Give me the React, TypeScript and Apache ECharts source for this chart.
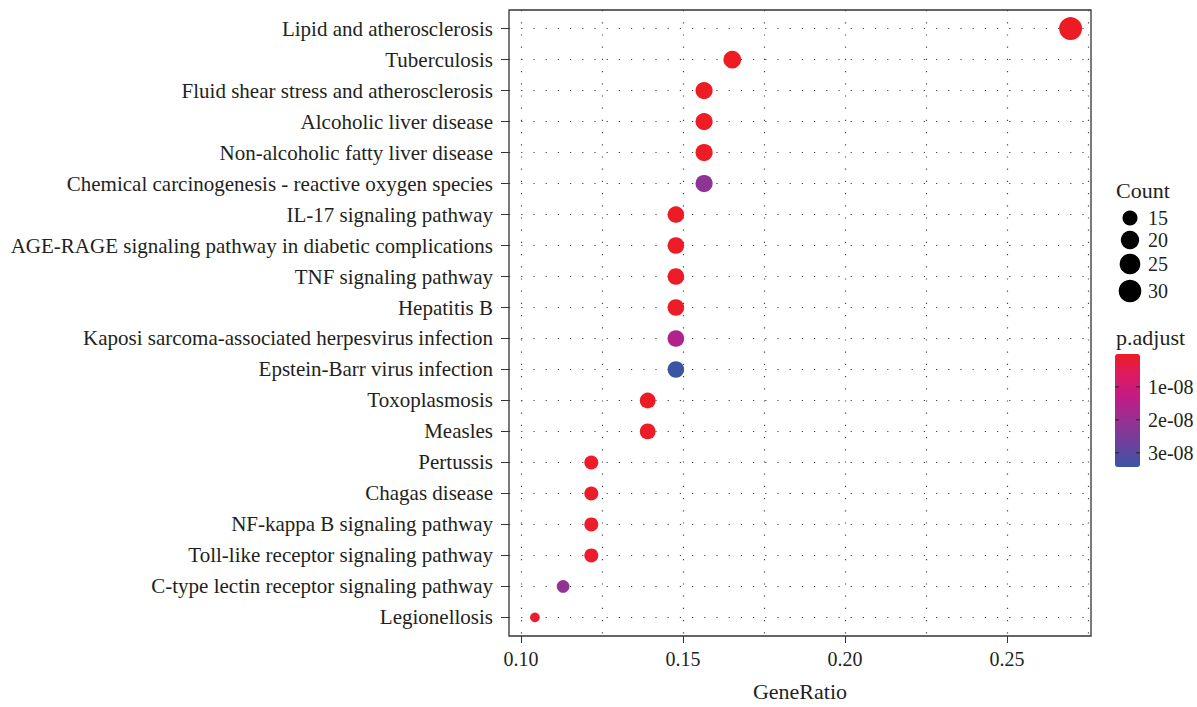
import React, { useEffect, useRef } from "react";
import * as echarts from "echarts";

const categories = [
  "Lipid and atherosclerosis",
  "Tuberculosis",
  "Fluid shear stress and atherosclerosis",
  "Alcoholic liver disease",
  "Non-alcoholic fatty liver disease",
  "Chemical carcinogenesis - reactive oxygen species",
  "IL-17 signaling pathway",
  "AGE-RAGE signaling pathway in diabetic complications",
  "TNF signaling pathway",
  "Hepatitis B",
  "Kaposi sarcoma-associated herpesvirus infection",
  "Epstein-Barr virus infection",
  "Toxoplasmosis",
  "Measles",
  "Pertussis",
  "Chagas disease",
  "NF-kappa B signaling pathway",
  "Toll-like receptor signaling pathway",
  "C-type lectin receptor signaling pathway",
  "Legionellosis",
];
const geneRatio = [
  0.2696, 0.1652, 0.1565, 0.1565, 0.1565, 0.1565, 0.1478, 0.1478, 0.1478, 0.1478,
  0.1478, 0.1478, 0.1391, 0.1391, 0.1217, 0.1217, 0.1217, 0.1217, 0.113, 0.1043,
];
const counts = [31, 19, 18, 18, 18, 18, 17, 17, 17, 17, 17, 17, 16, 16, 14, 14, 14, 14, 13, 12];
const pAdjust = [
  1e-14, 2e-11, 5e-11, 8e-11, 1e-10, 2.15e-8, 3e-11, 2e-10, 4e-10, 5e-10,
  1.65e-8, 3.43e-8, 3e-10, 4e-10, 2e-10, 5e-10, 6e-10, 8e-10, 2.1e-8, 1e-9,
];
const xTicks = [0.1, 0.15, 0.2, 0.25];
const xGridLines = [0.1, 0.125, 0.15, 0.175, 0.2, 0.225, 0.25, 0.275];
const countLegend = [15, 20, 25, 30];
const pTicks = [1e-8, 2e-8, 3e-8];
const pTickLabels = ["1e-08", "2e-08", "3e-08"];
const pMin = 0;
const pMax = 3.43e-8;
const xMin = 0.0963;
const xMax = 0.2759;

const FONT = "'Liberation Serif', 'Times New Roman', serif";
const TXT = "#231F20";
const cMin = 12;
const cMax = 31;
const sizeOf = (c: number) => 9.7 + 13.3 * Math.sqrt((c - cMin) / (cMax - cMin));

const cbLeft = 1115;
const cbTop = 354;
const cbW = 25;
const cbH = 113;

export default function App() {
  const ref = useRef<HTMLDivElement>(null);
  useEffect(() => {
    if (!ref.current) return;
    document.body.style.margin = "0";
    document.body.style.overflow = "hidden";
    const chart = echarts.init(ref.current, undefined, { renderer: "svg" });
    const data = categories.map((_, i) => [geneRatio[i], i + 1, counts[i], pAdjust[i]]);

    const graphics: any[] = [];
    graphics.push({
      type: "text",
      left: 1116,
      top: 179,
      style: { text: "Count", font: `22px ${FONT}`, fill: TXT },
    });
    const legY = [218, 240, 264, 291];
    countLegend.forEach((c, i) => {
      graphics.push({
        type: "circle",
        shape: { cx: 1130, cy: legY[i], r: sizeOf(c) / 2 },
        style: { fill: "#000" },
      });
      graphics.push({
        type: "text",
        x: 1148,
        y: legY[i],
        style: { text: String(c), font: `20px ${FONT}`, fill: TXT, textVerticalAlign: "middle" },
      });
    });
    graphics.push({
      type: "text",
      left: 1116,
      top: 326,
      style: { text: "p.adjust", font: `22px ${FONT}`, fill: TXT },
    });
    pTicks.forEach((v, i) => {
      const y = cbTop + ((v - pMin) / (pMax - pMin)) * cbH;
      graphics.push({
        type: "line",
        shape: { x1: cbLeft, y1: y, x2: cbLeft + 4, y2: y },
        style: { stroke: "#222", lineWidth: 1 },
        z: 100,
      });
      graphics.push({
        type: "line",
        shape: { x1: cbLeft + cbW - 4, y1: y, x2: cbLeft + cbW, y2: y },
        style: { stroke: "#222", lineWidth: 1 },
        z: 100,
      });
      graphics.push({
        type: "text",
        x: 1148,
        y,
        style: { text: pTickLabels[i], font: `20px ${FONT}`, fill: TXT, textVerticalAlign: "middle" },
      });
    });

    chart.setOption({
      animation: false,
      backgroundColor: "#fff",
      grid: {
        left: 509,
        right: 106,
        top: 10,
        bottom: 67,
        show: true,
        borderColor: "#333",
        borderWidth: 1.3,
        backgroundColor: "transparent",
        containLabel: false,
      },
      xAxis: [
        {
          type: "value",
          min: xMin,
          max: xMax,
          name: "GeneRatio",
          nameLocation: "middle",
          nameGap: 44,
          nameTextStyle: { fontFamily: FONT, fontSize: 22, color: TXT },
          axisLine: { show: false },
          axisTick: { show: true, length: 7, customValues: xTicks, lineStyle: { color: "#333" } },
          axisLabel: {
            customValues: xTicks,
            fontFamily: FONT,
            fontSize: 20,
            color: TXT,
            margin: 13,
            formatter: (v: number) => v.toFixed(2),
          },
          splitLine: { show: false },
        },
        {
          type: "value",
          min: xMin,
          max: xMax,
          position: "bottom",
          axisLine: { show: false },
          axisTick: { show: false, customValues: xGridLines },
          axisLabel: { show: false, customValues: xGridLines },
          splitLine: {
            show: true,
            lineStyle: { color: "#444", width: 1.2, type: [1.2, 11] },
          },
        },
      ],
      yAxis: {
        type: "value",
        inverse: true,
        min: 0.4,
        max: 20.6,
        axisLine: { show: false },
        axisTick: {
          show: true,
          length: 8,
          customValues: categories.map((_, i) => i + 1),
          lineStyle: { color: "#333" },
        },
        axisLabel: {
          customValues: categories.map((_, i) => i + 1),
          fontFamily: FONT,
          fontSize: 21,
          color: TXT,
          margin: 16,
          formatter: (v: number) => categories[Math.round(v) - 1] ?? "",
        },
        splitLine: {
          show: true,
          lineStyle: { color: "#444", width: 1.2, type: [1.2, 11] },
        },
      },
      visualMap: {
        type: "continuous",
        dimension: 3,
        min: pMin,
        max: pMax,
        inverse: true,
        calculable: false,
        orient: "vertical",
        left: cbLeft,
        top: cbTop,
        padding: 0,
        itemWidth: cbW,
        itemHeight: cbH,
        text: null,
        showLabel: false,
        inRange: {
          color: ["#ED1C24", "#DC1A66", "#BE1C86", "#953293", "#6A419C", "#3B55A5"],
        },
        seriesIndex: 0,
      },
      graphic: graphics,
      series: [
        {
          type: "scatter",
          data,
          symbolSize: (v: number[]) => sizeOf(v[2]),
          itemStyle: { opacity: 1 },
          z: 5,
        },
      ],
    });
    return () => chart.dispose();
  }, []);
  return (
    <div
      ref={ref}
      style={{ position: "fixed", left: 0, top: 0, width: 1197, height: 707 }}
    />
  );
}
